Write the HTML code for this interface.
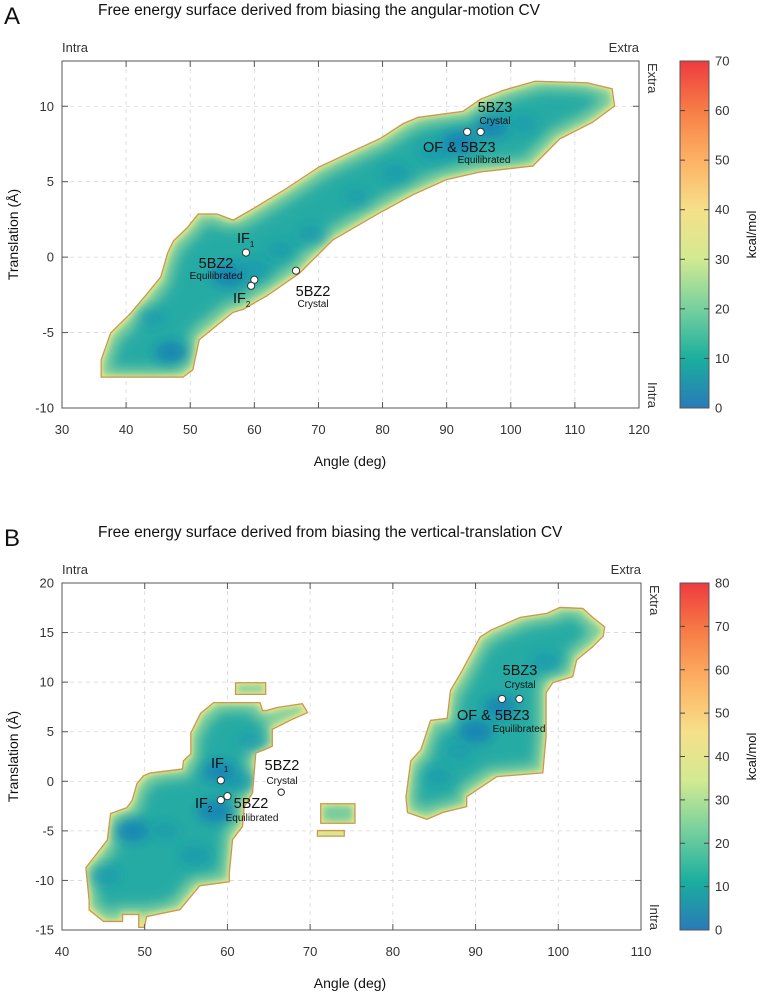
<!DOCTYPE html>
<html><head><meta charset="utf-8"><style>
html,body{margin:0;padding:0;background:#fff;}
svg{display:block;font-family:"Liberation Sans",sans-serif;}
</style></head><body>
<svg id="fig" width="762" height="997" viewBox="0 0 762 997" xmlns="http://www.w3.org/2000/svg">
<defs>
<linearGradient id="cbar" x1="0" y1="1" x2="0" y2="0">
<stop offset="0" stop-color="#2a7ab8"/>
<stop offset="0.14" stop-color="#1aae9e"/>
<stop offset="0.28" stop-color="#72cf9e"/>
<stop offset="0.43" stop-color="#d2ea91"/>
<stop offset="0.57" stop-color="#f6e08a"/>
<stop offset="0.72" stop-color="#fdb062"/>
<stop offset="0.86" stop-color="#f77c46"/>
<stop offset="1" stop-color="#ee3b3f"/>
</linearGradient>
<filter id="inner" x="-10%" y="-10%" width="120%" height="120%">
<feMorphology operator="erode" radius="3"/>
<feGaussianBlur stdDeviation="3"/>
</filter>
<filter id="inner2" x="-10%" y="-10%" width="120%" height="120%">
<feMorphology operator="erode" radius="9"/>
<feGaussianBlur stdDeviation="6"/>
</filter>
<filter id="blob" x="-50%" y="-50%" width="200%" height="200%">
<feGaussianBlur stdDeviation="6"/>
</filter>
</defs>
</svg>
<script>
// ---------- DATA ----------
const outlineA_angle=[36,36,37.5,40.6,43.2,45.3,46.4,47.3,49.5,51.2,54.2,56.7,60,65,70,75,79.6,83.2,85.5,92.5,95.2,98.8,103.8,111.9,115.9,116.3,112.8,107.7,103.5,99.4,95.2,90,84.8,79.6,72.3,67.1,62,58.3,56.7,51.5,50.5,48.9];
const outlineA_trans=[-8,-6.8,-5,-3.7,-2.4,-1.3,0.3,1.1,2,2.9,2.9,2.5,3.3,4.6,6,7,7.9,8.9,9.3,9.7,10.5,11.1,11.7,11.6,11.2,10,8.9,7.8,6,5.8,5.6,5.1,4.1,2.9,1.1,-1.1,-2.6,-3.5,-3.7,-5.5,-7.5,-8];
const minimaA_angle=[47,44,56,60,64,69,76,82,88,92,97,102];
const minimaA_trans=[-6.3,-4,-1.2,-0.8,0.5,1.5,4,5.5,7,7.6,8.6,8.8];
const minimaA_depth=[0.9,0.6,1,0.8,0.6,0.7,0.5,0.7,0.8,1,0.9,0.6];
const mainB_angle=[42.8,43.2,43.2,45,47.4,47.4,49.2,49.2,50,50.3,54.3,56.7,60.3,60.3,60.7,61.9,62.1,63.1,63.5,64.7,65.5,65.5,67.9,69.8,69.1,66,64.7,64.3,64,58.3,56.7,55.5,55.5,54.6,54.5,50.6,49.8,49,48.4,47.8,45.8,45.4,44.2];
const mainB_trans=[-8.7,-12,-13,-14.2,-14.2,-13.5,-13.5,-14.8,-14.8,-13.7,-13,-10.6,-10.2,-9.3,-5.9,-4.6,-2.6,-1.2,2.8,3.2,3.5,5.2,6.2,6.9,7.9,7.5,7.2,7.2,8,8,6.9,4.9,2.8,2.1,1.3,0.9,0.6,-0.2,-1.9,-2.6,-3.2,-5.9,-7.2];
const rightB_angle=[100.2,103,104.2,105.7,105.5,104.2,102.3,101.8,99.4,98.6,98.6,98.2,92.6,89,89,86.1,84.1,81.7,81.5,82.1,83.3,84.5,86.5,86.9,88.1,90.5,91.8,95.4,98.6];
const rightB_trans=[17.6,17.5,16.6,15.6,14.6,13.5,12.2,10.5,9.9,8.9,4.5,0.8,0.4,-1.6,-2.6,-3.2,-3.9,-3.2,-1.6,2.1,3.2,6.2,6.4,9.2,10.9,14.6,15.3,16.6,17];
const islandB1_angle=[60.9,64.7,64.7,60.9];
const islandB1_trans=[10,10,8.7,8.7];
const islandB2_angle=[71.2,75.5,75.5,71.2];
const islandB2_trans=[-2.2,-2.2,-4.3,-4.3];
const islandB3_angle=[70.8,74.2,74.2,70.8];
const islandB3_trans=[-4.9,-4.9,-5.6,-5.6];
const minimaB_angle=[48.5,45.3,52.5,56,58.5,61.5,63,59,90,93,98.5,85.5,88];
const minimaB_trans=[-5,-9.5,-5,-7.5,-3,0,4,1,5,7.5,12,0.5,3];
const minimaB_depth=[0.9,0.7,0.6,0.8,1,0.8,0.7,0.9,1,0.9,0.7,0.6,0.6];
const markA_angle=[58.7,60,59.5,66.5,93.2,95.3];
const markA_trans=[0.3,-1.5,-1.9,-0.9,8.3,8.3];
const markB_angle=[59.2,60,59.2,93.2,95.3];
const markB_trans=[0.1,-1.5,-1.9,8.3,8.3];
const hollowB_angle=[66.5];
const hollowB_trans=[-1.1];
const xTicksA=[30,40,50,60,70,80,90,100,110,120];
const yTicksA=[-10,-5,0,5,10];
const cTicksA=[0,10,20,30,40,50,60,70];
const xTicksB=[40,50,60,70,80,90,100,110];
const yTicksB=[-15,-10,-5,0,5,10,15,20];
const cTicksB=[0,10,20,30,40,50,60,70,80];

// ---------- DRAW ----------
const NS='http://www.w3.org/2000/svg';
const svg=document.getElementById('fig');
function mk(tag,attrs,parent){const e=document.createElementNS(NS,tag);for(const k in attrs)e.setAttribute(k,attrs[k]);(parent||svg).appendChild(e);return e;}
function txt(s,x,y,size,parent,anchor,extra){const t=mk('text',Object.assign({x:x,y:y,'font-size':size,fill:'#111','text-anchor':anchor||'start'},extra||{}),parent);t.textContent=s;return t;}
function axes(cfg){
  const sx=v=>cfg.L+(v-cfg.x0)/(cfg.x1-cfg.x0)*(cfg.R-cfg.L);
  const sy=v=>cfg.B-(v-cfg.y0)/(cfg.y1-cfg.y0)*(cfg.B-cfg.T);
  return {sx,sy};
}
let clipId=0;
function panel(cfg){
  const g=mk('g',{});
  
  
  const {sx,sy}=axes(cfg);
  const grid=mk('g',{},g);
  
  
  cfg.xt.forEach(v=>{const x=sx(v);if(x>cfg.L+1&&x<cfg.R-1)mk('line',{x1:x,x2:x,y1:cfg.T,y2:cfg.B,stroke:'#d6d6d6','stroke-width':0.8,'stroke-dasharray':'4,4'},grid);});
  cfg.yt.forEach(v=>{const y=sy(v);if(y>cfg.T+1&&y<cfg.B-1)mk('line',{x1:cfg.L,x2:cfg.R,y1:y,y2:y,stroke:'#d6d6d6','stroke-width':0.8,'stroke-dasharray':'4,4'},grid);});
  cfg.regions.forEach((r,i)=>{
    const pts=r.a.map((a,j)=>sx(a).toFixed(1)+','+sy(r.t[j]).toFixed(1)).join(' ');
    const id='clip'+(clipId++);
    const cp=mk('clipPath',{id:id},g);mk('polygon',{points:pts},cp);
    const rg=mk('g',{'clip-path':'url(#'+id+')'},g);
    
    
    mk('polygon',{points:pts,fill:'#e3e98e'},rg);
    mk('polygon',{points:pts,fill:'#88d19c',filter:'url(#inner)'},rg);
    mk('polygon',{points:pts,fill:'#25ab a4'.replace(' ',''),filter:'url(#inner2)'},rg);
    cfg.min.a.forEach((a,j)=>{
      const d=cfg.min.d[j];
      const e=mk('ellipse',{cx:sx(a),cy:sy(cfg.min.t[j]),rx:8+10*d,ry:5+6*d,fill:d>0.85?'#1484b4':'#1a9bae','fill-opacity':0.6+0.4*d,filter:'url(#blob)'},rg);
      
      
    });
    mk('polygon',{points:pts,fill:'none',stroke:'#cf9650','stroke-width':2.6},rg);
  });
  mk('rect',{x:cfg.L,y:cfg.T,width:cfg.R-cfg.L,height:cfg.B-cfg.T,fill:'none',stroke:'#555','stroke-width':1},g);
  cfg.xt.forEach(v=>{const x=sx(v);
    mk('line',{x1:x,x2:x,y1:cfg.B,y2:cfg.B-6,stroke:'#555'},g);
    mk('line',{x1:x,x2:x,y1:cfg.T,y2:cfg.T+6,stroke:'#555'},g);
    const t=txt(String(v),x,cfg.B+26,13,g,'middle',{fill:'#333'});
    });
  cfg.yt.forEach(v=>{const y=sy(v);
    mk('line',{x1:cfg.L,x2:cfg.L+6,y1:y,y2:y,stroke:'#555'},g);
    mk('line',{x1:cfg.R,x2:cfg.R-6,y1:y,y2:y,stroke:'#555'},g);
    const t=txt(String(v),cfg.L-8,y+4.5,13,g,'end',{fill:'#333'});
    });
  cfg.marks.a.forEach((a,j)=>{
    const c=mk('circle',{cx:sx(a),cy:sy(cfg.marks.t[j]),r:3.6,fill:'#fff',stroke:'#333','stroke-width':1},g);
    });
  if(cfg.hollow)cfg.hollow.a.forEach((a,j)=>{
    const c=mk('circle',{cx:sx(a),cy:sy(cfg.hollow.t[j]),r:3.2,fill:'#fff',stroke:'#222','stroke-width':1},g);
    });
  const cb=mk('g',{},g);
  
  mk('rect',{x:680,y:cfg.T,width:29,height:cfg.B-cfg.T,fill:'url(#cbar)',stroke:'#555','stroke-width':1},cb);
  const cmax=cfg.ct[cfg.ct.length-1];
  cfg.ct.forEach(v=>{const y=cfg.B-v/cmax*(cfg.B-cfg.T);
    if(v>0&&v<cmax){mk('line',{x1:680,x2:685,y1:y,y2:y,stroke:'#444'},cb);mk('line',{x1:704,x2:709,y1:y,y2:y,stroke:'#444'},cb);}
    const t=txt(String(v),715,y+4.5,13,cb,'start',{fill:'#333'});
    });
  const cl=txt('kcal/mol',0,0,13,cb,'middle',{transform:'translate(756,'+((cfg.T+cfg.B)/2)+') rotate(-90)'});
  
  txt('Intra',cfg.L,cfg.T-9,13,g,'start',{fill:'#333'});
  txt('Extra',cfg.R,cfg.T-9,13,g,'end',{fill:'#333'});
  txt('Extra',0,0,13,g,'start',{fill:'#333',transform:'translate('+(cfg.R+9)+','+(cfg.T+2)+') rotate(90)'});
  txt('Intra',0,0,13,g,'end',{fill:'#333',transform:'translate('+(cfg.R+9)+','+(cfg.B)+') rotate(90)'});
  const yl=txt('Translation (Å)',0,0,14,g,'middle',{transform:'translate(18,'+((cfg.T+cfg.B)/2)+') rotate(-90)'});
  
  const xl=txt('Angle (deg)',350,cfg.B+58,14,g,'middle');
  
  const tt=txt(cfg.title,98,cfg.titleY,15.5,g,'start');
  
  const pl=txt(cfg.letter,4,cfg.titleY+9,24,g,'start');
  
  cfg.ann.forEach(a=>{const t=txt(a[0],a[1],a[2],a[3],g,a[4]||'start');
    
    if(a[5]){const s=mk('tspan',{'font-size':8,dy:4},t);s.textContent=a[5];}});
  return g;
}

panel({name:'panel-a',letter:'A',title:'Free energy surface derived from biasing the angular-motion CV',titleY:15,
  L:62,R:639,T:61,B:408,x0:30,x1:120,y0:-10,y1:13,xt:xTicksA,yt:yTicksA,ct:cTicksA,
  regions:[{a:outlineA_angle,t:outlineA_trans}],
  min:{a:minimaA_angle,t:minimaA_trans,d:minimaA_depth},
  marks:{a:markA_angle,t:markA_trans},
  ann:[['IF',237,243,14.5,'start','1'],['5BZ2',216,268,14.5,'middle'],['Equilibrated',216,279,10,'middle'],
       ['IF',233,303,14.5,'start','2'],['5BZ2',313,296,14.5,'middle'],['Crystal',313,307,10,'middle'],
       ['5BZ3',495,112,14.5,'middle'],['Crystal',495,124,10,'middle'],['OF &  5BZ3',423,152,14.5,'start'],['Equilibrated',484,163,10,'middle']]
});
panel({name:'panel-b',letter:'B',title:'Free energy surface derived from biasing the vertical-translation CV',titleY:537,
  L:62,R:641,T:583,B:930,x0:40,x1:110,y0:-15,y1:20,xt:xTicksB,yt:yTicksB,ct:cTicksB,
  regions:[{a:mainB_angle,t:mainB_trans},{a:rightB_angle,t:rightB_trans},{a:islandB1_angle,t:islandB1_trans},{a:islandB2_angle,t:islandB2_trans},{a:islandB3_angle,t:islandB3_trans}],
  min:{a:minimaB_angle,t:minimaB_trans,d:minimaB_depth},
  marks:{a:markB_angle,t:markB_trans},hollow:{a:hollowB_angle,t:hollowB_trans},
  ann:[['IF',211,768,14.5,'start','1'],['5BZ2',282,770,14.5,'middle'],['Crystal',282,784,10,'middle'],
       ['IF',195,808,14.5,'start','2'],['5BZ2',251,808,14.5,'middle'],['Equilibrated',252,821,10,'middle'],
       ['5BZ3',520,675,14.5,'middle'],['Crystal',520,688,10,'middle'],['OF &  5BZ3',457,720,14.5,'start'],['Equilibrated',519,732,10,'middle']]
});
</script>
</body></html>
